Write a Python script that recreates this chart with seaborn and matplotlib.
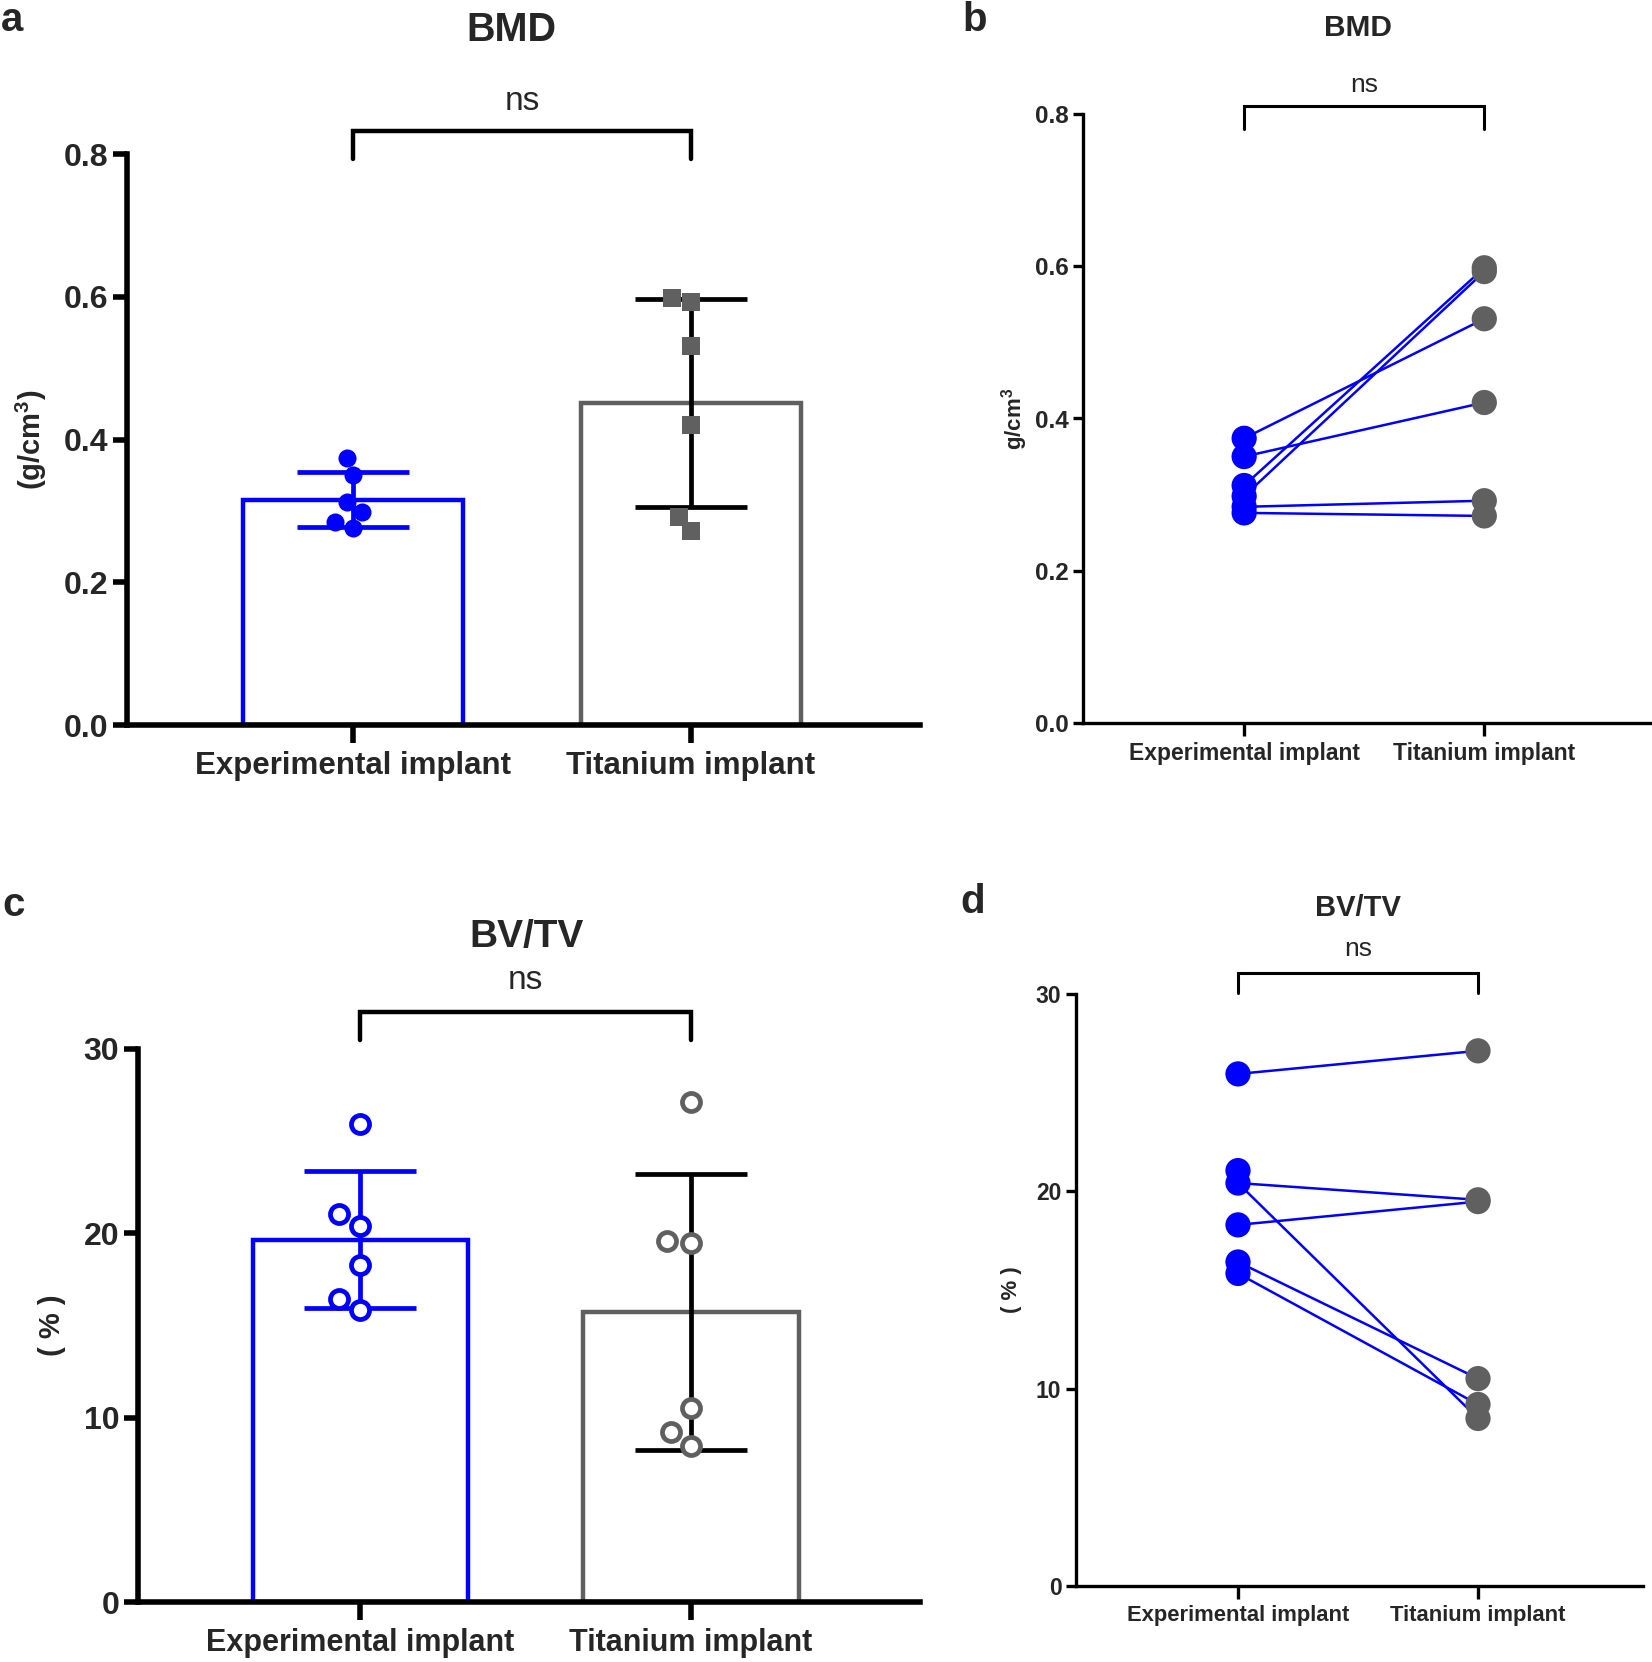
import numpy as np
import pandas as pd
import matplotlib
matplotlib.use("Agg")
import matplotlib.pyplot as plt
import seaborn as sns

cats = ['Experimental implant', 'Titanium implant']

# BMD (g/cm3), paired by index
bmd_exp = [0.374, 0.350, 0.312, 0.298, 0.284, 0.276]
bmd_ti = [0.531, 0.421, 0.598, 0.593, 0.292, 0.272]

# BV/TV (%) individual values
bvtv_exp = [25.95, 21.05, 20.42, 18.30, 16.42, 15.84]
bvtv_ti = [27.12, 19.57, 19.48, 10.51, 9.20, 8.49]

# BV/TV pairs as drawn in panel d
bvtv_pair_exp = [25.95, 20.42, 18.30, 20.42, 16.42, 15.84]
bvtv_pair_ti = [27.12, 19.57, 19.48, 8.49, 10.51, 9.20]

blue = '#0000FF'
gray = '#606060'

sns.set_style('ticks')
plt.rcParams['font.family'] = ['Liberation Sans', 'DejaVu Sans']
plt.rcParams['mathtext.fontset'] = 'custom'
plt.rcParams['mathtext.bf'] = 'Liberation Sans:bold'
plt.rcParams['mathtext.rm'] = 'Liberation Sans'

fig = plt.figure(figsize=(16.52, 16.62), dpi=100)
W, H = 1652, 1662


def rect(x0, x1, ytop, ybot):
    return [x0 / W, 1 - ybot / H, (x1 - x0) / W, (ybot - ytop) / H]


def long_df(exp, ti):
    return pd.DataFrame({'group': [cats[0]] * len(exp) + [cats[1]] * len(ti),
                         'value': list(exp) + list(ti)})


def style_axis(ax, lw, ticklen, tickfs, xfs):
    for s in ['top', 'right']:
        ax.spines[s].set_visible(False)
    for s in ['left', 'bottom']:
        ax.spines[s].set_linewidth(lw)
        ax.spines[s].set_color('black')
    ax.tick_params(axis='both', width=lw, length=ticklen, color='black', direction='out')
    for lab in ax.get_yticklabels():
        lab.set_fontweight('bold')
        lab.set_fontsize(tickfs)
    for lab in ax.get_xticklabels():
        lab.set_fontweight('bold')
        lab.set_fontsize(xfs)
    ax.set_xlabel('')


def bracket(ax, y_top, y_bot, ns_y, lw, fs):
    ax.plot([0, 0, 1, 1], [y_bot, y_top, y_top, y_bot], color='black', lw=lw,
            clip_on=False, solid_joinstyle='miter')
    ax.text(0.5, ns_y, 'ns', ha='center', va='center', fontsize=fs)


def bar_panel(r, exp, ti, xlim, ylim, yticks, yfmt, ylabel, markers, hollow,
              br, ylab_x, xfs, msize):
    ax = fig.add_axes(r)
    df = long_df(exp, ti)
    sns.barplot(data=df, x='group', y='value', hue='group', order=cats,
                hue_order=cats, palette=[blue, gray], fill=False, errorbar=None,
                width=0.65, linewidth=3.2, legend=False, ax=ax)
    stats = df.groupby('group')['value'].agg(['mean', 'std']).reindex(cats)
    for g, col, mk in zip(cats, [blue, gray], markers):
        n0 = len(ax.collections)
        sns.swarmplot(data=df[df['group'] == g], x='group', y='value', order=cats,
                      color=col, marker=mk, size=msize, linewidth=0,
                      ax=ax, zorder=4)
        if hollow:
            for coll in ax.collections[n0:]:
                coll.set_edgecolor(col)
                coll.set_facecolor('white')
                coll.set_linewidth(3.4)
    for i, col in enumerate([blue, 'black']):
        ax.errorbar(i, stats['mean'].iloc[i], yerr=stats['std'].iloc[i], color=col,
                    capsize=40, capthick=3.4, elinewidth=3.4, zorder=3, fmt='none')
    ax.set_xlim(*xlim)
    ax.set_ylim(*ylim)
    ax.set_yticks(yticks)
    ax.set_yticklabels([yfmt.format(v) for v in yticks])
    ax.set_xticks([0, 1])
    ax.set_xticklabels(cats)
    ax.set_ylabel('')
    style_axis(ax, 4.0, 10, 23, xfs)
    ax.tick_params(axis='x', length=13, pad=6)
    bracket(ax, br[0], br[1], br[2], 3.2, 24)
    ax.text(ylab_x, 0.5, ylabel, transform=ax.transAxes, rotation=90,
            ha='center', va='center', fontsize=21, fontweight='bold')
    return ax


def pair_panel(r, exp, ti, pexp, pti, xlim, ylim, yticks, yfmt, ylabel, br,
               ylab_x, xfs, yfs):
    ax = fig.add_axes(r)
    pairs = pd.DataFrame({'group': [cats[0]] * len(pexp) + [cats[1]] * len(pti),
                          'value': list(pexp) + list(pti),
                          'pair': list(range(len(pexp))) * 2})
    pts = long_df(exp, ti)
    sns.lineplot(data=pairs, x='group', y='value', units='pair', estimator=None,
                 color=blue, lw=1.8, sort=False, ax=ax, zorder=2)
    sns.scatterplot(data=pts, x='group', y='value', hue='group', hue_order=cats,
                    palette=[blue, gray], s=330, linewidth=0, legend=False,
                    ax=ax, zorder=3)
    ax.set_xlim(*xlim)
    ax.set_ylim(*ylim)
    ax.set_yticks(yticks)
    ax.set_yticklabels([yfmt.format(v) for v in yticks])
    ax.set_xticks([0, 1])
    ax.set_xticklabels(cats)
    ax.set_ylabel('')
    style_axis(ax, 2.4, 7, yfs, xfs)
    ax.tick_params(axis='x', length=9, pad=5)
    bracket(ax, br[0], br[1], br[2], 2.2, 19)
    ax.text(ylab_x, 0.5, ylabel, transform=ax.transAxes, rotation=90,
            ha='center', va='center', fontsize=16, fontweight='bold')
    return ax


# panel a
bar_panel(rect(127, 920, 154, 725), bmd_exp, bmd_ti, (-0.669, 1.678), (0, 0.8),
          [0, 0.2, 0.4, 0.6, 0.8], '{:.1f}', r'(g/cm$^\mathbf{3}$)', ['o', 's'], False,
          (0.832, 0.793, 0.874), -0.12, 22.5, 13)
# panel c
bar_panel(rect(138, 920, 1049, 1602), bvtv_exp, bvtv_ti, (-0.671, 1.692), (0, 30),
          [0, 10, 20, 30], '{:d}', '( % )', ['o', 'o'], True,
          (32.0, 30.5, 33.7), -0.11, 22, 13)
# panel b
pair_panel(rect(1083, 1650, 114, 723), bmd_exp, bmd_ti, bmd_exp, bmd_ti,
           (-0.671, 1.69), (0, 0.8), [0, 0.2, 0.4, 0.6, 0.8], '{:.1f}',
           r'g/cm$^\mathbf{3}$', (0.8105, 0.780, 0.838), -0.12, 16.5, 17.5)
# panel d
pair_panel(rect(1076, 1643, 994, 1586), bvtv_exp, bvtv_ti, bvtv_pair_exp,
           bvtv_pair_ti, (-0.675, 1.6875), (0, 30), [0, 10, 20, 30], '{:d}',
           '( % )', (31.06, 30.05, 32.3), -0.113, 15.8, 16.5)

# titles and panel letters
fig.text(511 / W, 1 - 30 / H, 'BMD', ha='center', va='center', fontsize=28.5, fontweight='bold')
fig.text(1358 / W, 1 - 28 / H, 'BMD', ha='center', va='center', fontsize=21.5, fontweight='bold')
fig.text(527 / W, 1 - 937 / H, 'BV/TV', ha='center', va='center', fontsize=28, fontweight='bold')
fig.text(1358 / W, 1 - 908 / H, 'BV/TV', ha='center', va='center', fontsize=21, fontweight='bold')
for lab, x, y in [('a', 12, 20), ('b', 975, 20), ('c', 14, 905), ('d', 973, 902)]:
    fig.text(x / W, 1 - y / H, lab, ha='center', va='center', fontsize=29, fontweight='bold')

fig.savefig('out.png', dpi=100)
